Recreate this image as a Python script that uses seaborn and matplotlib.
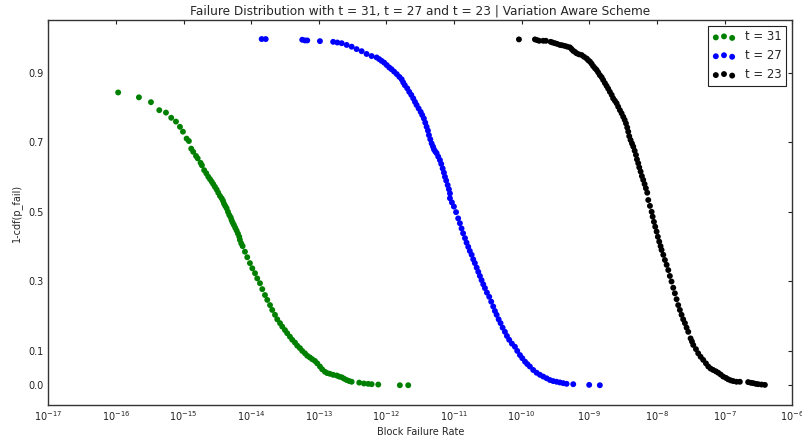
import matplotlib
matplotlib.use("Agg")
import matplotlib.pyplot as plt
from matplotlib.ticker import LogLocator
import seaborn as sns
import pandas as pd

# values (block failure rate, 1-cdf)
t31_x = [1.08e-16, 2.19e-16, 3.30e-16, 4.38e-16, 5.50e-16, 6.58e-16, 7.73e-16, 8.85e-16,
         9.80e-16, 1.11e-15, 1.20e-15, 1.30e-15, 1.39e-15, 1.53e-15, 1.62e-15, 1.79e-15,
         1.87e-15, 2.02e-15, 2.17e-15, 2.32e-15, 2.46e-15, 2.61e-15, 2.75e-15, 2.91e-15,
         3.09e-15, 3.26e-15, 3.45e-15, 3.66e-15, 3.83e-15, 3.96e-15, 4.14e-15, 4.34e-15,
         4.54e-15, 4.74e-15, 4.98e-15, 5.14e-15, 5.32e-15, 5.56e-15, 5.82e-15, 6.09e-15,
         6.38e-15, 6.67e-15, 6.82e-15, 7.13e-15, 7.48e-15, 8.09e-15, 8.75e-15, 9.59e-15,
         1.04e-14, 1.14e-14, 1.23e-14, 1.35e-14, 1.46e-14, 1.60e-14, 1.73e-14, 1.90e-14,
         2.05e-14, 2.25e-14, 2.43e-14, 2.67e-14, 2.88e-14, 3.16e-14, 3.41e-14, 3.74e-14,
         4.05e-14, 4.44e-14, 4.80e-14, 5.26e-14, 5.69e-14, 6.24e-14, 6.75e-14, 7.39e-14,
         8.00e-14, 8.77e-14, 9.48e-14, 1.04e-13, 1.12e-13, 1.23e-13, 1.33e-13, 1.46e-13,
         1.63e-13, 1.84e-13, 1.99e-13, 2.18e-13, 2.36e-13, 2.58e-13, 2.82e-13, 3.06e-13,
         3.96e-13, 4.65e-13, 5.38e-13, 6.04e-13, 7.57e-13, 1.58e-12, 2.10e-12]
t31_y = [0.844, 0.830, 0.816, 0.793, 0.786, 0.771, 0.760, 0.745,
         0.731, 0.711, 0.704, 0.682, 0.673, 0.661, 0.654, 0.641,
         0.634, 0.620, 0.611, 0.601, 0.594, 0.587, 0.580, 0.572,
         0.564, 0.555, 0.546, 0.539, 0.532, 0.524, 0.517, 0.510,
         0.500, 0.491, 0.484, 0.476, 0.469, 0.462, 0.454, 0.446,
         0.437, 0.428, 0.419, 0.409, 0.401, 0.385, 0.369, 0.352,
         0.337, 0.323, 0.308, 0.294, 0.277, 0.260, 0.246, 0.231,
         0.217, 0.203, 0.190, 0.179, 0.169, 0.159, 0.150, 0.140,
         0.131, 0.123, 0.114, 0.107, 0.099, 0.092, 0.085, 0.080,
         0.075, 0.070, 0.063, 0.054, 0.046, 0.039, 0.035, 0.033,
         0.030, 0.028, 0.025, 0.023, 0.019, 0.015, 0.012, 0.010,
         0.0075, 0.005, 0.004, 0.003, 0.002, 0.0, 0.0]

t27_x = [1.43e-14, 1.64e-14, 5.69e-14, 6.24e-14, 6.75e-14, 1.04e-13, 1.63e-13, 1.88e-13,
         2.18e-13, 2.58e-13, 3.06e-13, 3.62e-13, 4.30e-13, 5.09e-13, 6.04e-13, 7.16e-13,
         7.83e-13, 8.49e-13, 9.27e-13, 1.01e-12, 1.10e-12, 1.19e-12, 1.30e-12, 1.42e-12,
         1.55e-12, 1.68e-12, 1.77e-12, 1.87e-12, 2.03e-12, 2.17e-12, 2.33e-12, 2.49e-12,
         2.64e-12, 2.79e-12, 2.99e-12, 3.21e-12, 3.38e-12, 3.58e-12, 3.75e-12, 3.93e-12,
         4.11e-12, 4.25e-12, 4.45e-12, 4.66e-12, 4.88e-12, 5.04e-12, 5.27e-12, 5.52e-12,
         5.83e-12, 6.18e-12, 6.46e-12, 6.78e-12, 7.08e-12, 7.33e-12, 7.65e-12, 8.04e-12,
         8.39e-12, 8.69e-12, 8.69e-12, 9.29e-12, 9.95e-12, 1.07e-11, 1.15e-11, 1.22e-11,
         1.29e-11, 1.36e-11, 1.45e-11, 1.53e-11, 1.62e-11, 1.71e-11, 1.82e-11, 1.92e-11,
         2.03e-11, 2.16e-11, 2.28e-11, 2.41e-11, 2.55e-11, 2.70e-11, 2.86e-11, 3.06e-11,
         3.31e-11, 3.54e-11, 3.79e-11, 4.02e-11, 4.26e-11, 4.56e-11, 4.87e-11, 5.22e-11,
         5.65e-11, 6.05e-11, 6.53e-11, 7.16e-11, 7.94e-11, 8.59e-11, 9.42e-11, 1.02e-10,
         1.12e-10, 1.21e-10, 1.32e-10, 1.48e-10, 1.66e-10, 1.86e-10, 2.08e-10, 2.34e-10,
         2.61e-10, 2.92e-10, 3.28e-10, 3.67e-10, 4.11e-10, 4.61e-10, 5.78e-10, 9.95e-10,
         1.43e-09]
t27_y = [0.998, 0.998, 0.996, 0.994, 0.994, 0.992, 0.990, 0.988,
         0.986, 0.981, 0.976, 0.969, 0.963, 0.955, 0.949, 0.945,
         0.940, 0.935, 0.930, 0.923, 0.916, 0.911, 0.904, 0.897,
         0.889, 0.882, 0.873, 0.865, 0.856, 0.846, 0.837, 0.827,
         0.817, 0.808, 0.798, 0.788, 0.779, 0.769, 0.757, 0.745,
         0.734, 0.721, 0.709, 0.697, 0.688, 0.680, 0.674, 0.669,
         0.659, 0.649, 0.638, 0.625, 0.613, 0.601, 0.590, 0.577,
         0.565, 0.553, 0.539, 0.527, 0.515, 0.499, 0.481, 0.467,
         0.452, 0.438, 0.424, 0.411, 0.399, 0.387, 0.376, 0.363,
         0.352, 0.339, 0.327, 0.315, 0.303, 0.291, 0.280, 0.267,
         0.255, 0.241, 0.227, 0.214, 0.203, 0.190, 0.179, 0.166,
         0.154, 0.142, 0.131, 0.120, 0.111, 0.099, 0.087, 0.078,
         0.068, 0.061, 0.054, 0.044, 0.036, 0.030, 0.025, 0.020,
         0.015, 0.012, 0.010, 0.008, 0.006, 0.004, 0.003, 0.001,
         0.0]

t23_x = [9.10e-11, 1.57e-10, 1.69e-10, 1.81e-10, 2.08e-10, 2.28e-10, 2.68e-10, 2.86e-10,
         3.10e-10, 3.35e-10, 3.67e-10, 3.97e-10, 4.36e-10, 4.71e-10, 5.16e-10, 5.47e-10,
         5.78e-10, 6.12e-10, 6.48e-10, 7.01e-10, 7.69e-10, 8.32e-10, 9.12e-10, 9.62e-10,
         1.02e-09, 1.08e-09, 1.14e-09, 1.21e-09, 1.28e-09, 1.35e-09, 1.43e-09, 1.52e-09,
         1.60e-09, 1.70e-09, 1.80e-09, 1.90e-09, 2.01e-09, 2.14e-09, 2.25e-09, 2.39e-09,
         2.53e-09, 2.67e-09, 2.83e-09, 3.00e-09, 3.17e-09, 3.33e-09, 3.48e-09, 3.63e-09,
         3.76e-09, 3.89e-09, 4.07e-09, 4.27e-09, 4.46e-09, 4.68e-09, 4.89e-09, 5.06e-09,
         5.28e-09, 5.47e-09, 5.73e-09, 5.98e-09, 6.26e-09, 6.56e-09, 6.85e-09, 7.18e-09,
         7.43e-09, 7.87e-09, 8.34e-09, 8.63e-09, 9.02e-09, 9.42e-09, 9.88e-09, 1.03e-08,
         1.08e-08, 1.13e-08, 1.17e-08, 1.24e-08, 1.31e-08, 1.39e-08, 1.47e-08, 1.55e-08,
         1.64e-08, 1.74e-08, 1.84e-08, 1.95e-08, 2.06e-08, 2.18e-08, 2.31e-08, 2.44e-08,
         2.59e-08, 2.74e-08, 2.90e-08, 3.14e-08, 3.29e-08, 3.44e-08, 3.77e-08, 4.07e-08,
         4.42e-08, 4.83e-08, 5.30e-08, 5.73e-08, 6.21e-08, 6.78e-08, 7.43e-08, 8.04e-08,
         8.73e-08, 9.53e-08, 1.05e-07, 1.13e-07, 1.23e-07, 1.34e-07, 1.50e-07, 1.68e-07,
         2.23e-07, 2.45e-07, 2.65e-07, 2.90e-07, 3.14e-07, 3.52e-07, 3.94e-07]
t23_y = [0.997, 0.997, 0.995, 0.993, 0.993, 0.993, 0.990, 0.988,
         0.986, 0.984, 0.981, 0.980, 0.978, 0.976, 0.974, 0.969,
         0.964, 0.961, 0.957, 0.954, 0.952, 0.947, 0.942, 0.937,
         0.933, 0.927, 0.920, 0.914, 0.909, 0.902, 0.894, 0.888,
         0.880, 0.871, 0.863, 0.855, 0.846, 0.837, 0.827, 0.820,
         0.813, 0.803, 0.793, 0.784, 0.774, 0.765, 0.755, 0.743,
         0.731, 0.718, 0.707, 0.697, 0.688, 0.676, 0.664, 0.651,
         0.640, 0.628, 0.616, 0.603, 0.592, 0.580, 0.568, 0.555,
         0.534, 0.517, 0.500, 0.486, 0.471, 0.457, 0.443, 0.428,
         0.414, 0.401, 0.390, 0.376, 0.361, 0.347, 0.332, 0.315,
         0.299, 0.281, 0.265, 0.248, 0.231, 0.217, 0.203, 0.190,
         0.179, 0.166, 0.154, 0.135, 0.126, 0.116, 0.104, 0.092,
         0.082, 0.073, 0.063, 0.054, 0.048, 0.044, 0.040, 0.036,
         0.031, 0.025, 0.021, 0.017, 0.014, 0.012, 0.010, 0.010,
         0.009, 0.007, 0.006, 0.004, 0.003, 0.002, 0.001]

series_labels = ['t = 31', 't = 27', 't = 23']
series_colors = ['#008000', '#0000ff', '#000000']
y_ticks = [0.0, 0.1, 0.3, 0.5, 0.7, 0.9]


def main():
    sns.set_style("white")
    plt.rcParams['font.family'] = ['DejaVu Sans']
    plt.rcParams['mathtext.default'] = 'regular'

    fig = plt.figure(figsize=(8.03, 4.42), dpi=100)
    ax = fig.add_axes([0.0601, 0.0837, 0.9265, 0.8711])

    data = [(t31_x, t31_y), (t27_x, t27_y), (t23_x, t23_y)]
    for (xs, ys), label, color in zip(data, series_labels, series_colors):
        df = pd.DataFrame({'rate': xs, 'ccdf': ys})
        sns.scatterplot(data=df, x='rate', y='ccdf', ax=ax, color=color,
                        s=18, linewidth=0, edgecolor='none', label=label,
                        legend=False)

    ax.set_xscale('log')
    ax.set_xlim(1e-17, 1e-6)
    ax.xaxis.set_major_locator(LogLocator(base=10, numticks=20))
    ax.set_ylim(-0.057, 1.053)
    ax.set_yticks(y_ticks)
    ax.set_yticklabels(['0.0', '0.1', '0.3', '0.5', '0.7', '0.9'])
    ax.minorticks_off()

    ax.set_title('Failure Distribution with t = 31, t = 27 and t = 23 | Variation Aware Scheme',
                 fontsize=8.7, pad=4)
    ax.set_xlabel('Block Failure Rate', fontsize=7, labelpad=3)
    ax.set_ylabel('1-cdf(p_fail)', fontsize=7, labelpad=5)

    ax.tick_params(which='both', direction='in', length=3, width=0.8,
                   top=True, right=True, labelsize=7, pad=3, colors='#222222')
    for spine in ax.spines.values():
        spine.set_color('#333333')
        spine.set_linewidth(1.0)

    leg = ax.legend(handles=ax.collections[:3], labels=series_labels,
                    loc='upper right', scatterpoints=3,
                    scatteryoffsets=[0.375, 0.5, 0.3125], fontsize=8.4,
                    fancybox=False, framealpha=1, edgecolor='#222222',
                    borderaxespad=0.5, handletextpad=0.8)
    leg.get_frame().set_linewidth(0.8)

    fig.savefig('out.png', dpi=100)
    plt.close(fig)


if __name__ == "__main__":
    main()
